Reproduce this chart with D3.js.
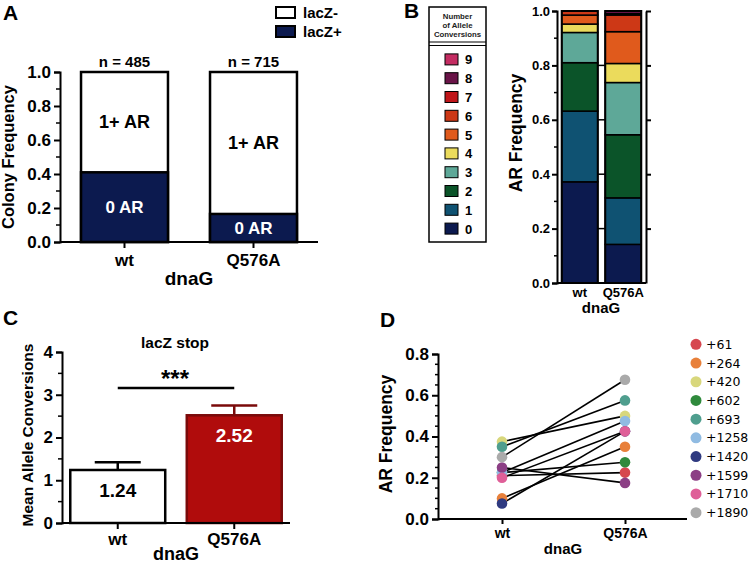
<!DOCTYPE html>
<html><head><meta charset="utf-8">
<script src="https://cdn.jsdelivr.net/npm/d3@7"></script>
<style>body{margin:0;background:#fff}svg{display:block}text{font-family:"Liberation Sans",Arial,sans-serif;font-weight:bold}</style>
</head><body><svg id="c" width="750" height="569"></svg>
<script>
// ---------- Data ----------
const categories = ["wt", "Q576A"];
// Panel A
const zeroARFraction = [0.41, 0.165];
const nLabels = ["n = 485", "n = 715"];
const ticksA = [0, 0.2, 0.4, 0.6, 0.8, 1.0];
// Panel B (fraction of colonies by number of allele conversions, 0..9)
const conversionClasses = ["0","1","2","3","4","5","6","7","8","9"];
const wtConversions    = [0.372, 0.260, 0.178, 0.111, 0.031, 0.033, 0.015, 0, 0, 0];
const q576aConversions = [0.142, 0.171, 0.232, 0.192, 0.070, 0.117, 0.061, 0.005, 0.010, 0];
const classColors = ["#0c1a4f","#0f5272","#0b5429","#5ea898","#ebdb5c","#e05a1c","#cd3816","#c0161a","#6a1448","#c42c62"];
// Panel C
const meanConversions = [1.24, 2.52];
const errorUpper = [1.42, 2.75];
const ticksC = [0, 1, 2, 3, 4];
// Panel D
const sites = ["+61","+264","+420","+602","+693","+1258","+1420","+1599","+1710","+1890"];
const siteColors = ["#d6474f","#e8803a","#d8d77c","#2f8a3c","#4f9e8e","#90bbe2","#2f3a80","#8c3f85","#df5f98","#aaaaaa"];
const wtAR    = [0.21, 0.10, 0.375, 0.225, 0.35, 0.225, 0.075, 0.25, 0.20, 0.30];
const q576aAR = [0.225, 0.35, 0.50, 0.275, 0.575, 0.475, 0.425, 0.175, 0.425, 0.675];
const ticksD = [0, 0.2, 0.4, 0.6, 0.8];

const svg = d3.select("#c");
const fmt1 = d3.format(".1f");
const navy = "#0c1a4f";

function panelLetter(t, x, y){ svg.append("text").attr("x",x).attr("y",y).attr("font-size",21).text(t); }
function yAxisMinor(x, scale, vals, len){
  svg.append("g").selectAll("line").data(vals).join("line")
    .attr("x1",x).attr("x2",x-len).attr("y1",d=>scale(d)).attr("y2",d=>scale(d))
    .attr("stroke","#000").attr("stroke-width",1.5);
}
function styleAxis(g, fs){
  g.selectAll("path").attr("stroke","#000").attr("stroke-width",2);
  g.selectAll(".tick line").attr("stroke","#000").attr("stroke-width",2);
  g.selectAll("text").attr("font-size",fs).attr("fill","#000")
   .style("font-family","'Liberation Sans',Arial,sans-serif").style("font-weight","bold");
}

// ================= Panel A =================
panelLetter("A", 3, 20);
const yA = d3.scaleLinear().domain([0,1]).range([242,72]);
const xA = d3.scaleBand().domain(categories).range([60,318]).paddingInner(0.326).paddingOuter(0.163);
categories.forEach((c,i)=>{
  const x0 = xA(c), w = xA.bandwidth();
  svg.append("rect").attr("x",x0).attr("y",yA(1)).attr("width",w).attr("height",yA(0)-yA(1))
    .attr("fill","#fff").attr("stroke","#000").attr("stroke-width",2.5);
  svg.append("rect").attr("x",x0).attr("y",yA(zeroARFraction[i])).attr("width",w)
    .attr("height",yA(0)-yA(zeroARFraction[i])).attr("fill",navy).attr("stroke","#000").attr("stroke-width",2.5);
  svg.append("text").attr("x",x0+w/2).attr("y",yA(1)-5).attr("text-anchor","middle").attr("font-size",15).text(nLabels[i]);
  svg.append("text").attr("x",x0+w/2).attr("y",yA((1+zeroARFraction[i])/2)+6).attr("text-anchor","middle")
    .attr("font-size",18).text("1+ AR");
  svg.append("text").attr("x",x0+w/2).attr("y",yA(zeroARFraction[i]/2)+6).attr("text-anchor","middle")
    .attr("font-size",17).attr("fill","#fff").text("0 AR");
});
const gAy = svg.append("g").attr("transform","translate(60,0)")
  .call(d3.axisLeft(yA).tickValues(ticksA).tickFormat(fmt1).tickSize(6).tickPadding(3));
styleAxis(gAy,17);
yAxisMinor(60, yA, [0.1,0.3,0.5,0.7,0.9], 4);
const gAx = svg.append("g").attr("transform","translate(0,242)")
  .call(d3.axisBottom(xA).tickSize(6).tickSizeOuter(0).tickPadding(6));
gAx.select("path").attr("d","M60,0H318");
styleAxis(gAx,17);
svg.append("text").attr("transform","translate(14,157) rotate(-90)").attr("text-anchor","middle")
  .attr("font-size",16.5).text("Colony Frequency");
svg.append("text").attr("x",189).attr("y",285).attr("text-anchor","middle").attr("font-size",19).text("dnaG");
// legend A
svg.append("rect").attr("x",276).attr("y",7).attr("width",19).attr("height",11).attr("fill","#fff").attr("stroke","#000").attr("stroke-width",2);
svg.append("rect").attr("x",276).attr("y",26).attr("width",19).attr("height",11).attr("fill",navy).attr("stroke","#000").attr("stroke-width",2);
svg.append("text").attr("x",303).attr("y",18).attr("font-size",15).text("lacZ-");
svg.append("text").attr("x",303).attr("y",37).attr("font-size",15).text("lacZ+");

// ================= Panel B =================
panelLetter("B", 404, 18);
svg.append("rect").attr("x",429).attr("y",7).attr("width",57).attr("height",235).attr("fill","#fff").attr("stroke","#000").attr("stroke-width",1.5);
["Number","of Allele","Conversions"].forEach((t,i)=>{
  svg.append("text").attr("x",457.5).attr("y",19+i*9).attr("text-anchor","middle").attr("font-size",7.8).attr("fill","#222").text(t);
});
svg.append("line").attr("x1",429).attr("x2",486).attr("y1",42).attr("y2",42).attr("stroke","#000").attr("stroke-width",1.2);
svg.append("line").attr("x1",429).attr("x2",486).attr("y1",45.5).attr("y2",45.5).attr("stroke","#000").attr("stroke-width",1.2);
const legB = d3.scaleBand().domain(conversionClasses.slice().reverse()).range([50,238]);
conversionClasses.forEach((c,i)=>{
  const cy = legB(c)+legB.bandwidth()/2;
  svg.append("rect").attr("x",445).attr("y",cy-5.5).attr("width",13).attr("height",11).attr("fill",classColors[i]).attr("stroke","#000").attr("stroke-width",1);
  svg.append("text").attr("x",465).attr("y",cy+5).attr("font-size",13).text(c);
});
const yB = d3.scaleLinear().domain([0,1]).range([283,11]);
const xB = d3.scaleBand().domain(categories).range([557,646]).paddingInner(0.172).paddingOuter(0.109);
const stackB = [wtConversions, q576aConversions];
categories.forEach((c,i)=>{
  let cum = 0;
  stackB[i].forEach((v,k)=>{
    if(v<=0) return;
    svg.append("rect").attr("x",xB(c)).attr("y",yB(cum+v)).attr("width",xB.bandwidth()).attr("height",yB(cum)-yB(cum+v))
      .attr("fill",classColors[k]).attr("stroke","#000").attr("stroke-width",1.5);
    cum += v;
  });
  svg.append("rect").attr("x",xB(c)).attr("y",yB(1)).attr("width",xB.bandwidth()).attr("height",yB(0)-yB(1))
    .attr("fill","none").attr("stroke","#000").attr("stroke-width",2);
});
const gBy = svg.append("g").attr("transform","translate(557,0)")
  .call(d3.axisLeft(yB).tickValues([0,0.2,0.4,0.6,0.8,1.0]).tickFormat(fmt1).tickSize(5).tickPadding(2));
styleAxis(gBy,13);
yAxisMinor(557, yB, [0.1,0.3,0.5,0.7,0.9], 3);
const gBr = svg.append("g").attr("transform","translate(646,0)")
  .call(d3.axisRight(yB).tickValues([0.2,0.4,0.6,0.8,1.0]).tickFormat("").tickSize(5).tickSizeOuter(0));
styleAxis(gBr,13);
const gapX = xB("wt")+xB.bandwidth();
svg.append("g").selectAll("line").data([0.2,0.4,0.6,0.8]).join("line")
  .attr("x1",gapX).attr("x2",xB("Q576A")).attr("y1",d=>yB(d)).attr("y2",d=>yB(d)).attr("stroke","#000").attr("stroke-width",1.5);
const gBx = svg.append("g").attr("transform","translate(0,283)")
  .call(d3.axisBottom(xB).tickSize(0).tickSizeOuter(0).tickPadding(5));
gBx.select("path").attr("d","M557,0H646");
styleAxis(gBx,13);
svg.append("text").attr("transform","translate(522,133) rotate(-90)").attr("text-anchor","middle").attr("font-size",17.5).text("AR Frequency");
svg.append("text").attr("x",601).attr("y",313).attr("text-anchor","middle").attr("font-size",15).text("dnaG");

// ================= Panel C =================
panelLetter("C", 3, 325);
const yC = d3.scaleLinear().domain([0,4]).range([523,352]);
const xC = d3.scaleBand().domain(categories).range([62,290]).paddingInner(0.185).paddingOuter(0.071);
const barFillC = ["#ffffff","#b00c0c"], barStrokeC = ["#000","#7a0a0a"];
categories.forEach((c,i)=>{
  const cx = xC(c)+xC.bandwidth()/2;
  svg.append("line").attr("x1",cx).attr("x2",cx).attr("y1",yC(meanConversions[i])).attr("y2",yC(errorUpper[i]))
    .attr("stroke",barStrokeC[i]).attr("stroke-width",2.5);
  svg.append("line").attr("x1",cx-23).attr("x2",cx+23).attr("y1",yC(errorUpper[i])).attr("y2",yC(errorUpper[i]))
    .attr("stroke",barStrokeC[i]).attr("stroke-width",2.5);
  svg.append("rect").attr("x",xC(c)).attr("y",yC(meanConversions[i])).attr("width",xC.bandwidth())
    .attr("height",yC(0)-yC(meanConversions[i])).attr("fill",barFillC[i]).attr("stroke",barStrokeC[i]).attr("stroke-width",2.5);
});
svg.append("text").attr("x",xC("wt")+xC.bandwidth()/2).attr("y",497).attr("text-anchor","middle").attr("font-size",19).text(meanConversions[0].toFixed(2));
svg.append("text").attr("x",xC("Q576A")+xC.bandwidth()/2).attr("y",442).attr("text-anchor","middle").attr("font-size",19).attr("fill","#fff").text(meanConversions[1].toFixed(2));
const gCy = svg.append("g").attr("transform","translate(62,0)")
  .call(d3.axisLeft(yC).tickValues(ticksC).tickFormat(d3.format("d")).tickSize(6).tickPadding(3));
styleAxis(gCy,17);
yAxisMinor(62, yC, [0.5,1.5,2.5,3.5], 4);
const gCx = svg.append("g").attr("transform","translate(0,523)")
  .call(d3.axisBottom(xC).tickSize(6).tickSizeOuter(0).tickPadding(4));
gCx.select("path").attr("d","M62,0H290");
styleAxis(gCx,17);
const sigY = yC(3.16);
svg.append("line").attr("x1",xC("wt")+xC.bandwidth()/2).attr("x2",xC("Q576A")+xC.bandwidth()/2).attr("y1",sigY).attr("y2",sigY)
  .attr("stroke","#000").attr("stroke-width",2.5);
svg.append("text").attr("x",175).attr("y",387).attr("text-anchor","middle").attr("font-size",24).text("***");
svg.append("text").attr("x",175).attr("y",348).attr("text-anchor","middle").attr("font-size",15.5).text("lacZ stop");
svg.append("text").attr("transform","translate(33,435) rotate(-90)").attr("text-anchor","middle").attr("font-size",15.5).text("Mean Allele Conversions");
svg.append("text").attr("x",176).attr("y",560).attr("text-anchor","middle").attr("font-size",18).text("dnaG");

// ================= Panel D =================
panelLetter("D", 380, 327);
const yD = d3.scaleLinear().domain([0,0.8]).range([519,354]);
const xD = d3.scalePoint().domain(categories).range([502,625]);
const gDy = svg.append("g").attr("transform","translate(438,0)")
  .call(d3.axisLeft(yD).tickValues(ticksD).tickFormat(fmt1).tickSize(6).tickPadding(3));
styleAxis(gDy,17);
yAxisMinor(438, yD, d3.range(1,16).map(k=>k*0.05).filter(v=>Math.abs(v*5-Math.round(v*5))>1e-6), 3);
const gDx = svg.append("g").attr("transform","translate(0,519)")
  .call(d3.axisBottom(xD).tickSize(5).tickSizeOuter(0).tickPadding(4));
gDx.select("path").attr("d","M438,0H687");
styleAxis(gDx,14);
sites.forEach((s,i)=>{
  svg.append("line").attr("x1",xD("wt")).attr("x2",xD("Q576A")).attr("y1",yD(wtAR[i])).attr("y2",yD(q576aAR[i]))
    .attr("stroke","#000").attr("stroke-width",1.6);
});
sites.forEach((s,i)=>{
  svg.append("circle").attr("cx",xD("wt")).attr("cy",yD(wtAR[i])).attr("r",5.3).attr("fill",siteColors[i]);
  svg.append("circle").attr("cx",xD("Q576A")).attr("cy",yD(q576aAR[i])).attr("r",5.3).attr("fill",siteColors[i]);
});
svg.append("text").attr("transform","translate(392,434) rotate(-90)").attr("text-anchor","middle").attr("font-size",17.5).text("AR Frequency");
svg.append("text").attr("x",563).attr("y",554).attr("text-anchor","middle").attr("font-size",15).text("dnaG");
const legD = d3.scaleBand().domain(sites).range([335,522]);
sites.forEach((s,i)=>{
  const cy = legD(s)+legD.bandwidth()/2;
  svg.append("circle").attr("cx",696).attr("cy",cy).attr("r",5.5).attr("fill",siteColors[i]);
  svg.append("text").attr("x",706).attr("y",cy+4.5).attr("font-size",12.5)
    .style("font-family","'DejaVu Sans',Verdana,sans-serif").style("font-weight","normal").text(s);
});
</script></body></html>
